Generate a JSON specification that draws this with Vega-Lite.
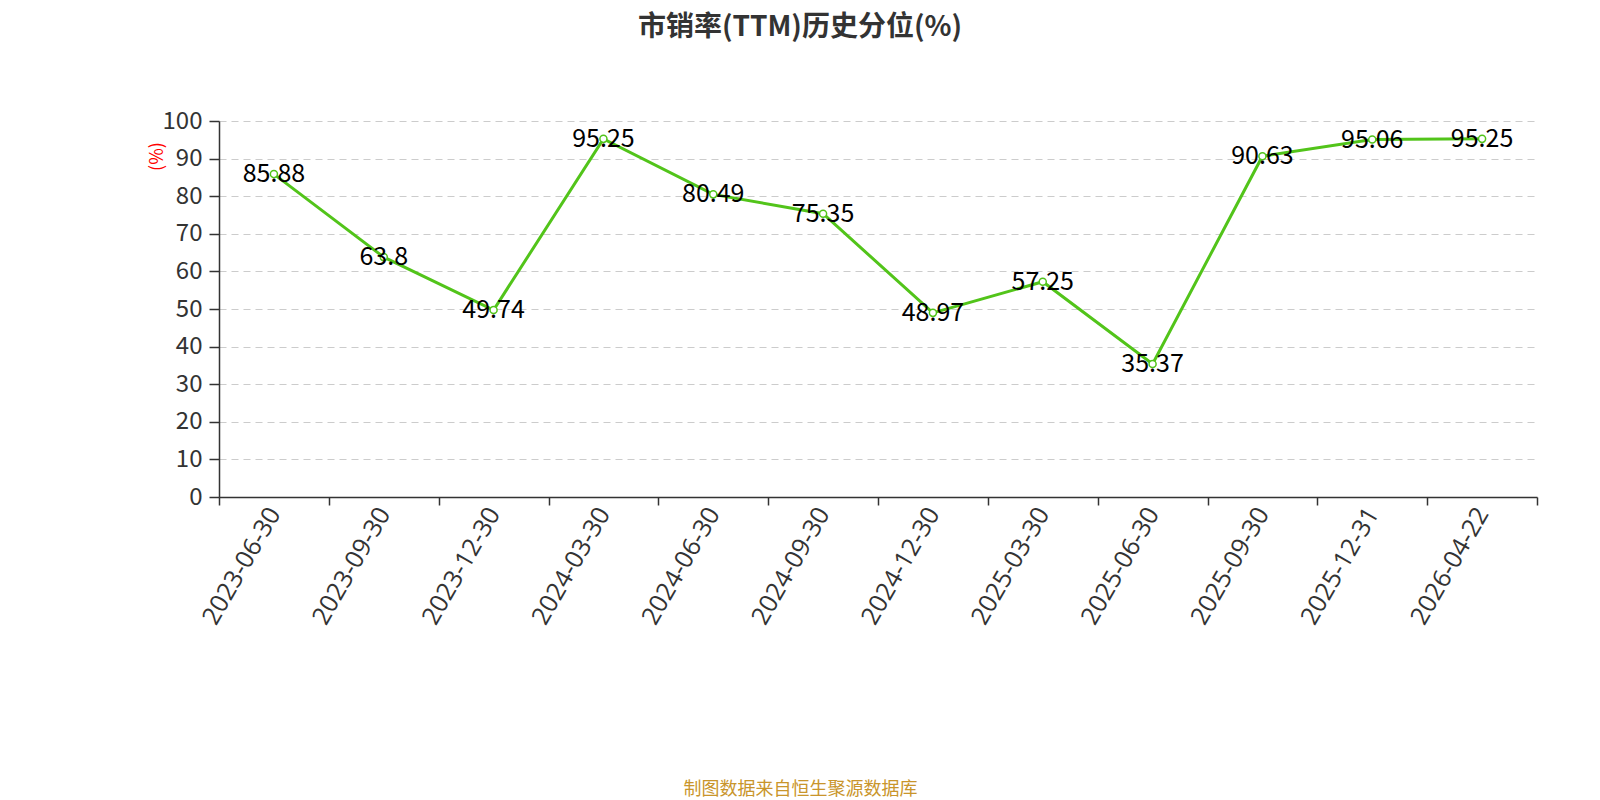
{
  "$schema": "https://vega.github.io/schema/vega-lite/v6.json",
  "width": 1318,
  "height": 376,
  "autosize": {"type": "none"},
  "padding": {"left": 219, "top": 121, "right": 63, "bottom": 303},
  "background": "white",
  "config": {"view": {"stroke": null}, "font": "Noto Sans CJK SC"},
  "title": {
    "text": "市销率(TTM)历史分位(%)",
    "fontSize": 28,
    "fontWeight": "bold",
    "color": "#333333",
    "font": "Noto Sans CJK SC",
    "anchor": "middle",
    "dx": -78,
    "offset": 67
  },
  "data": {
    "values": [
      {"date": "2023-06-30", "value": 85.88},
      {"date": "2023-09-30", "value": 63.8},
      {"date": "2023-12-30", "value": 49.74},
      {"date": "2024-03-30", "value": 95.25},
      {"date": "2024-06-30", "value": 80.49},
      {"date": "2024-09-30", "value": 75.35},
      {"date": "2024-12-30", "value": 48.97},
      {"date": "2025-03-30", "value": 57.25},
      {"date": "2025-06-30", "value": 35.37},
      {"date": "2025-09-30", "value": 90.63},
      {"date": "2025-12-31", "value": 95.06},
      {"date": "2026-04-22", "value": 95.25}
    ]
  },
  "encoding": {
    "x": {
      "field": "date",
      "type": "ordinal",
      "sort": null,
      "scale": {"type": "band", "paddingInner": 0, "paddingOuter": 0},
      "axis": {
        "tickBand": "extent",
        "labelAngle": -60,
        "labelFontSize": 25,
        "labelColor": "#333333",
        "labelFont": "Open Sans",
        "labelPadding": 4,
        "domainColor": "#333333",
        "domainWidth": 1.5,
        "tickColor": "#333333",
        "tickWidth": 1.5,
        "tickSize": 8,
        "grid": false,
        "title": "制图数据来自恒生聚源数据库",
        "titleColor": "#C9952B",
        "titleFontSize": 18,
        "titleFontWeight": "normal",
        "titleFont": "Noto Sans CJK SC",
        "titleX": 581,
        "titleY": 292,
        "titleAlign": "center",
        "titleBaseline": "middle"
      }
    },
    "y": {
      "field": "value",
      "type": "quantitative",
      "scale": {"domain": [0, 100], "nice": false},
      "axis": {
        "values": [0, 10, 20, 30, 40, 50, 60, 70, 80, 90, 100],
        "grid": true,
        "gridDash": [7, 5],
        "gridColor": "#cccccc",
        "gridWidth": 1.2,
        "labelFontSize": 24,
        "labelColor": "#333333",
        "labelFont": "Noto Sans CJK SC",
        "labelPadding": 7,
        "domainColor": "#333333",
        "domainWidth": 1.5,
        "tickColor": "#333333",
        "tickWidth": 1.5,
        "tickSize": 10,
        "title": "(%)",
        "titleColor": "#ff0000",
        "titleFontSize": 18,
        "titleFontWeight": "normal",
        "titleFont": "Noto Sans CJK SC",
        "titleX": -62,
        "titleY": 35,
        "titleAlign": "center",
        "titleBaseline": "middle"
      }
    }
  },
  "layer": [
    {"mark": {"type": "line", "color": "#52C41A", "strokeWidth": 3}},
    {"mark": {"type": "point", "filled": true, "fill": "white", "stroke": "#52C41A", "strokeWidth": 1.5, "size": 50, "opacity": 1}},
    {
      "mark": {"type": "text", "fontSize": 25, "color": "#000000", "baseline": "middle", "align": "center", "font": "Noto Sans CJK SC"},
      "encoding": {"text": {"field": "value", "type": "quantitative"}}
    }
  ]
}
